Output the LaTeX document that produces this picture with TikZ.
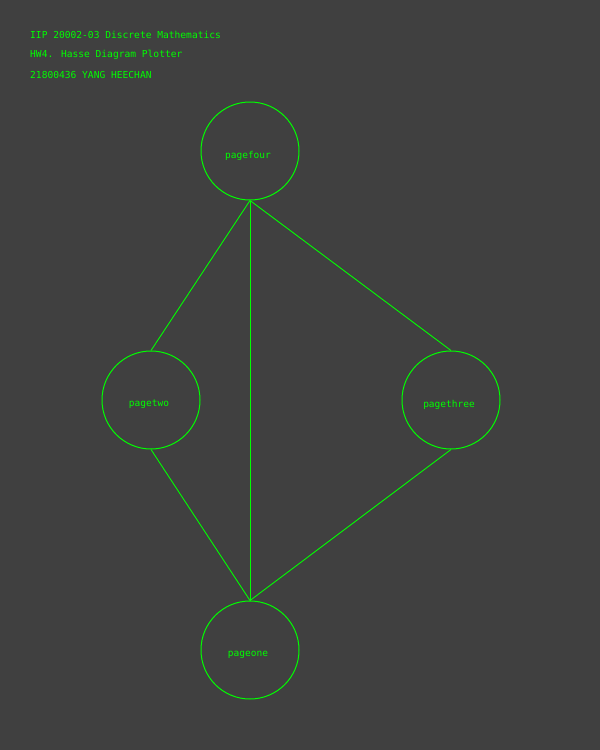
\documentclass[tikz,border=0pt]{standalone}
\usepackage{fontspec}
\newfontfamily\pix{DejaVu Sans Mono}
\definecolor{bg}{HTML}{404040}
\definecolor{grn}{HTML}{00FF00}
\begin{document}
\begin{tikzpicture}[x=1pt,y=-1pt,
  elem/.style={circle,draw=grn,line width=1pt,minimum size=98pt,inner sep=0pt},
  lbl/.style={text=grn,inner sep=0pt,font=\pix\fontsize{9.5}{11}\selectfont},
  hdr/.style={anchor=west,text=grn,inner sep=0pt,font=\pix\fontsize{9.6}{11}\selectfont},
  edge/.style={draw=grn,line width=0.9pt}]
\fill[bg] (0,0) rectangle (600,750);
\useasboundingbox (0,0) rectangle (600,750);
\node[hdr] (h1) at (30,35) {IIP 20002-03 Discrete Mathematics};
\node[hdr] (h2) at (30,55) {HW4. Hasse Diagram Plotter};
\node[hdr] (h3) at (30,75) {21800436 YANG HEECHAN};
\node[elem] (four) at (250,151) {};
\node[elem] (two) at (151,400) {};
\node[elem] (three) at (451,400) {};
\node[elem] (one) at (250,650) {};
\node[lbl] (fourl) at ([xshift=-2pt,yshift=-4.5pt]four.center) {pagefour};
\node[lbl] (twol) at ([xshift=-2pt,yshift=-4.5pt]two.center) {pagetwo};
\node[lbl] (threel) at ([xshift=-2pt,yshift=-4.5pt]three.center) {pagethree};
\node[lbl] (onel) at ([xshift=-2pt,yshift=-4.5pt]one.center) {pageone};
\draw[edge] (four.south) -- (two.north);
\draw[edge] (four.south) -- (three.north);
\draw[edge] (four.south) -- (one.north);
\draw[edge] (two.south) -- (one.north);
\draw[edge] (three.south) -- (one.north);
\end{tikzpicture}
\end{document}
